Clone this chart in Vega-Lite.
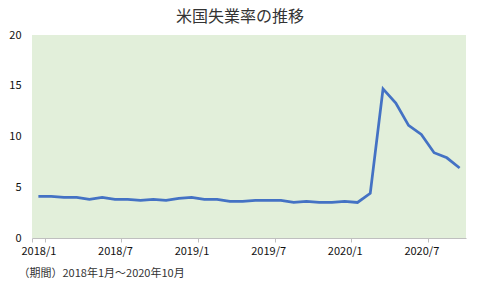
{
  "$schema": "https://vega.github.io/schema/vega-lite/v6.json",
  "width": 434,
  "height": 203,
  "autosize": {"type": "none"},
  "padding": {"left": 32, "top": 35, "right": 14, "bottom": 51},
  "background": "#ffffff",
  "title": {
    "text": "米国失業率の推移",
    "font": "Noto Sans CJK JP",
    "fontSize": 16,
    "fontWeight": "normal",
    "color": "#333333",
    "anchor": "middle",
    "frame": "group",
    "dx": -9,
    "offset": 4
  },
  "config": {
    "view": {"fill": "#E2EFDA", "stroke": null},
    "font": "Noto Sans CJK JP"
  },
  "data": {
    "values": [
      {"month": "2018/1", "rate": 4.1}, {"month": "2018/2", "rate": 4.1}, {"month": "2018/3", "rate": 4.0},
      {"month": "2018/4", "rate": 4.0}, {"month": "2018/5", "rate": 3.8}, {"month": "2018/6", "rate": 4.0},
      {"month": "2018/7", "rate": 3.8}, {"month": "2018/8", "rate": 3.8}, {"month": "2018/9", "rate": 3.7},
      {"month": "2018/10", "rate": 3.8}, {"month": "2018/11", "rate": 3.7}, {"month": "2018/12", "rate": 3.9},
      {"month": "2019/1", "rate": 4.0}, {"month": "2019/2", "rate": 3.8}, {"month": "2019/3", "rate": 3.8},
      {"month": "2019/4", "rate": 3.6}, {"month": "2019/5", "rate": 3.6}, {"month": "2019/6", "rate": 3.7},
      {"month": "2019/7", "rate": 3.7}, {"month": "2019/8", "rate": 3.7}, {"month": "2019/9", "rate": 3.5},
      {"month": "2019/10", "rate": 3.6}, {"month": "2019/11", "rate": 3.5}, {"month": "2019/12", "rate": 3.5},
      {"month": "2020/1", "rate": 3.6}, {"month": "2020/2", "rate": 3.5}, {"month": "2020/3", "rate": 4.4},
      {"month": "2020/4", "rate": 14.7}, {"month": "2020/5", "rate": 13.3}, {"month": "2020/6", "rate": 11.1},
      {"month": "2020/7", "rate": 10.2}, {"month": "2020/8", "rate": 8.4}, {"month": "2020/9", "rate": 7.9},
      {"month": "2020/10", "rate": 6.9}
    ]
  },
  "mark": {"type": "line", "color": "#4472C4", "strokeWidth": 2.75, "interpolate": "linear"},
  "encoding": {
    "x": {
      "field": "month",
      "type": "ordinal",
      "sort": null,
      "scale": {"type": "band", "paddingInner": 0, "paddingOuter": 0},
      "axis": {
        "values": ["2018/1", "2018/7", "2019/1", "2019/7", "2020/1", "2020/7"],
        "tickBand": "extent",
        "labelAngle": 0,
        "labelFontSize": 11,
        "labelColor": "#111111",
        "labelPadding": 3,
        "domainColor": "#BFBFBF",
        "tickColor": "#BFBFBF",
        "tickSize": 4,
        "grid": false,
        "title": "（期間）2018年1月～2020年10月",
        "titleFontSize": 11,
        "titleFontWeight": "normal",
        "titleColor": "#333333",
        "titleAnchor": "start",
        "titleAlign": "left",
        "titleBaseline": "middle",
        "titleX": -14,
        "titleY": 35
      }
    },
    "y": {
      "field": "rate",
      "type": "quantitative",
      "scale": {"domain": [0, 20], "nice": false},
      "axis": {
        "values": [0, 5, 10, 15, 20],
        "domain": false,
        "ticks": false,
        "grid": false,
        "labelFontSize": 11,
        "labelColor": "#111111",
        "labelPadding": 11,
        "title": null
      }
    }
  }
}
